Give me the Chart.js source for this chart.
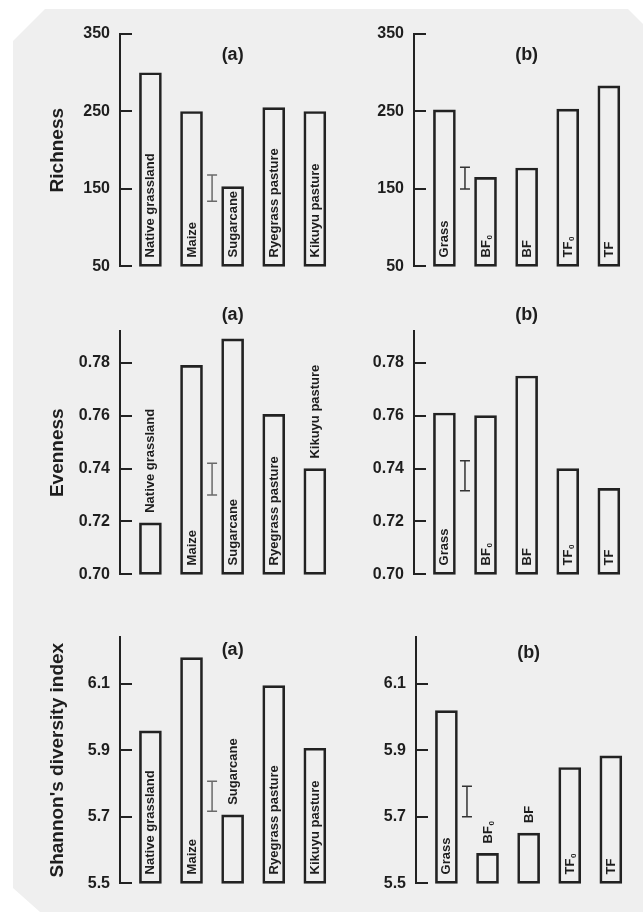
<!DOCTYPE html>
<html>
<head>
<meta charset="utf-8">
<script src="https://cdn.jsdelivr.net/npm/chart.js@4.4.1/dist/chart.umd.min.js"></script>
<style>
html, body { margin: 0; padding: 0; background: #fff; }
#page { position: relative; width: 643px; height: 912px; overflow: hidden; }
#paper {
    position: absolute; left: 0; top: 0; width: 643px; height: 912px; background: #efefef;
    clip-path: polygon(45px 9px, 628px 9px, 643px 24px, 643px 912px, 40px 912px, 13px 888px, 13px 41px);
}
canvas { position: absolute; }
</style>
</head>
<body>
<div id="page">
    <div id="paper"></div>
    <canvas id="richA" width="310" height="282" style="left:36px;top:4px"></canvas>
    <canvas id="richB" width="280" height="282" style="left:360px;top:4px"></canvas>
    <canvas id="evenA" width="310" height="293" style="left:36px;top:301px"></canvas>
    <canvas id="evenB" width="280" height="293" style="left:360px;top:301px"></canvas>
    <canvas id="shanA" width="310" height="296" style="left:36px;top:607px"></canvas>
    <canvas id="shanB" width="280" height="296" style="left:362px;top:607px"></canvas>
</div>
<script>
/*
 * 데이터
 * */
const categoriesA = ['Native grassland', 'Maize', 'Sugarcane', 'Ryegrass pasture', 'Kikuyu pasture'];
const categoriesB = ['Grass', 'BF₀', 'BF', 'TF₀', 'TF'];

const richnessA = [300, 250, 153, 255, 250];
const richnessB = [252, 165, 177, 253, 283];
const evennessA = [0.7195, 0.779, 0.789, 0.7605, 0.740];
const evennessB = [0.761, 0.760, 0.775, 0.740, 0.7325];
const shannonA = [5.958, 6.178, 5.706, 6.094, 5.906];
const shannonB = [6.019, 5.590, 5.651, 5.848, 5.883];

// LSD 막대 (아래, 위)
const richnessLsdA = [134, 168];
const richnessLsdB = [150, 178];
const evennessLsdA = [0.730, 0.742];
const evennessLsdB = [0.7316, 0.743];
const shannonLsdA = [5.717, 5.807];
const shannonLsdB = [5.700, 5.792];

// 눈금
const richnessTicks = [50, 150, 250, 350];
const evennessTicks = [0.70, 0.72, 0.74, 0.76, 0.78];
const shannonTicks = [5.5, 5.7, 5.9, 6.1];

const FONT = "'Liberation Sans', Arial, sans-serif";
const INK = '#1e1e1e';
Chart.defaults.font.family = FONT;
Chart.defaults.color = INK;

/*
 * 안쪽 눈금, 막대 안 세로 글씨, (a)/(b) 표시
 * */
const panelDecor = {
    id: 'panelDecor',
    afterDatasetsDraw(chart, args, opts) {
        const ctx = chart.ctx;
        const xs = chart.scales.x, ys = chart.scales.y;
        const area = chart.chartArea;
        ctx.save();

        // 눈금 (축 안쪽으로)
        ctx.strokeStyle = '#222';
        ctx.lineWidth = 2;
        ys.ticks.forEach(t => {
            const py = Math.round(ys.getPixelForValue(t.value));
            ctx.beginPath();
            ctx.moveTo(area.left, py);
            ctx.lineTo(area.left + 12, py);
            ctx.stroke();
        });

        // 막대 글씨
        ctx.fillStyle = INK;
        const bottom = ys.getPixelForValue(ys.min);
        chart.getDatasetMeta(0).data.forEach((bar, i) => {
            const name = opts.labels[i];
            const sub = name.endsWith('₀');
            const main = sub ? name.slice(0, -1) : name;
            ctx.font = 'bold 13px ' + FONT;
            const w = ctx.measureText(main).width;
            const above = opts.above.includes(i);
            const start = above ? bar.y - 10 : bottom - 9;
            ctx.save();
            ctx.translate(bar.x + 0.5, start);
            ctx.rotate(-Math.PI / 2);
            ctx.textAlign = 'left';
            ctx.textBaseline = 'middle';
            ctx.fillText(main, 0, 0);
            if (sub) {
                ctx.font = 'bold 8px ' + FONT;
                ctx.fillText('0', w + 0.5, 4);
            }
            ctx.restore();
        });

        // 패널 표시
        ctx.font = 'bold 18px ' + FONT;
        ctx.textAlign = 'center';
        ctx.textBaseline = 'middle';
        ctx.fillText(opts.tag, xs.getPixelForValue(2), area.top + opts.tagDy);
        ctx.restore();
    }
};

/*
 * 패널 하나 그리기
 * id: 캔버스 id, values: 막대 값, lsd: [아래, 위], ticks: 눈금 값
 * */
const makePanel = function (id, cfg) {
    const ctx = document.getElementById(id).getContext('2d');
    return new Chart(ctx, {
        type: 'bar',
        data: {
            datasets: [{
                type: 'bar',
                data: cfg.values.map((v, i) => ({ x: i, y: v })),
                base: cfg.min,
                backgroundColor: 'rgba(0,0,0,0)',
                borderColor: '#222',
                borderWidth: 2,
                borderSkipped: false,
                barThickness: 22,
                clip: false
            }, {
                type: 'line',
                data: [{ x: cfg.lsdAt, y: cfg.lsd[0] }, { x: cfg.lsdAt, y: cfg.lsd[1] }],
                borderColor: cfg.lsdColor,
                borderWidth: 1.5,
                pointStyle: 'line',
                pointRadius: 5,
                pointBorderWidth: 1.5,
                pointBorderColor: cfg.lsdColor,
                fill: false
            }]
        },
        options: {
            responsive: false,
            animation: false,
            events: [],
            layout: { padding: { top: 30, bottom: 10, left: 0, right: 3 } },
            scales: {
                x: { type: 'linear', min: -0.74, max: 4.6, offset: false, display: false },
                y: {
                    min: cfg.min,
                    max: cfg.max,
                    afterBuildTicks: s => { s.ticks = cfg.ticks.map(v => ({ value: v })); },
                    afterFit: s => { s.width = cfg.axisW; },
                    grid: { display: false, drawTicks: false },
                    border: { display: true, color: '#222', width: 2 },
                    ticks: {
                        padding: 10,
                        color: INK,
                        font: { size: 16, weight: 'bold' },
                        callback: v => Number(v).toFixed(cfg.dec)
                    },
                    title: {
                        display: !!cfg.title,
                        text: cfg.title || '',
                        color: INK,
                        font: { size: 19, weight: 'bold' },
                        padding: { top: 10, bottom: 0 }
                    }
                }
            },
            plugins: {
                legend: { display: false },
                tooltip: { enabled: false },
                panelDecor: { labels: cfg.labels, above: cfg.above, tag: cfg.tag, tagDy: cfg.tagDy }
            }
        },
        plugins: [panelDecor]
    });
};

document.addEventListener('DOMContentLoaded', function () {
    makePanel('richA', { values: richnessA, labels: categoriesA, lsd: richnessLsdA, lsdAt: 1.5, lsdColor: '#6a6a6a',
        ticks: richnessTicks, min: 50, max: 350, dec: 0, axisW: 84, title: 'Richness', tag: '(a)', tagDy: 21, above: [] });
    makePanel('richB', { values: richnessB, labels: categoriesB, lsd: richnessLsdB, lsdAt: 0.5, lsdColor: '#333',
        ticks: richnessTicks, min: 50, max: 350, dec: 0, axisW: 54, tag: '(b)', tagDy: 21, above: [] });
    makePanel('evenA', { values: evennessA, labels: categoriesA, lsd: evennessLsdA, lsdAt: 1.5, lsdColor: '#6a6a6a',
        ticks: evennessTicks, min: 0.70, max: 0.792, dec: 2, axisW: 84, title: 'Evenness', tag: '(a)', tagDy: -16, above: [0, 4] });
    makePanel('evenB', { values: evennessB, labels: categoriesB, lsd: evennessLsdB, lsdAt: 0.5, lsdColor: '#333',
        ticks: evennessTicks, min: 0.70, max: 0.792, dec: 2, axisW: 54, tag: '(b)', tagDy: -16, above: [] });
    makePanel('shanA', { values: shannonA, labels: categoriesA, lsd: shannonLsdA, lsdAt: 1.5, lsdColor: '#6a6a6a',
        ticks: shannonTicks, min: 5.5, max: 6.24, dec: 1, axisW: 84, title: "Shannon's diversity index", tag: '(a)', tagDy: 13, above: [2] });
    makePanel('shanB', { values: shannonB, labels: categoriesB, lsd: shannonLsdB, lsdAt: 0.5, lsdColor: '#333',
        ticks: shannonTicks, min: 5.5, max: 6.24, dec: 1, axisW: 54, tag: '(b)', tagDy: 16, above: [1, 2] });
});
</script>
</body>
</html>
